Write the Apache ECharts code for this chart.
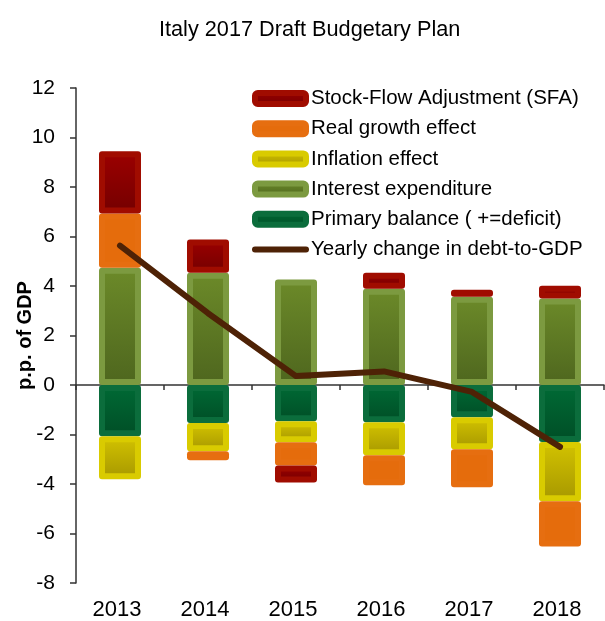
<!DOCTYPE html>
<html>
<head>
<meta charset="utf-8">
<script src="https://cdn.jsdelivr.net/npm/echarts@6/dist/echarts.min.js"></script>
<style>
  html, body { margin: 0; height: 100%; background: #fff; }
  #chart { width: 605px; height: 621px; }
</style>
</head>
<body>
<div id="chart"></div>
<script>
  // data (p.p. of GDP)
  const years = ['2013', '2014', '2015', '2016', '2017', '2018'];
  const primaryBalance = [-2.07, -1.54, -1.46, -1.50, -1.30, -2.30];
  const interestExp = [4.74, 4.54, 4.26, 3.89, 3.57, 3.49];
  const inflationEff = [-1.74, -1.14, -0.85, -1.34, -1.30, -2.40];
  const realGrowthEff = [2.19, -0.36, -0.94, -1.21, -1.53, -1.83];
  const sfa = [2.51, 1.34, -0.69, 0.65, 0.28, 0.52];
  const debtChange = [5.63, 2.90, 0.36, 0.55, -0.28, -2.50];
  const yTicks = { min: -8, max: 12, interval: 2 };

  const font = '"Liberation Sans", Arial, sans-serif';

  const grad = (top, bottom) => new echarts.graphic.LinearGradient(0, 0, 0, 1, [
    { offset: 0, color: top },
    { offset: 1, color: bottom }
  ]);

  // border sits inside the bar, so the gradient shows as an inset block
  const barSeries = (name, data, fill, border) => ({
    name: name,
    type: 'bar',
    stack: 'total',
    barWidth: 42,
    data: data,
    itemStyle: {
      color: fill,
      borderColor: border,
      borderWidth: 6,
      borderRadius: 0,
      borderJoin: 'round'
    }
  });

  const chart = echarts.init(document.getElementById('chart'), null, { renderer: 'canvas' });

  const lineName = 'Yearly change in debt-to-GDP';

  const option = {
    animation: false,
    title: {
      text: 'Italy 2017 Draft Budgetary Plan',
      left: 154,
      top: 14,
      textStyle: { fontFamily: font, fontSize: 21.7, fontWeight: 'normal', color: '#000' }
    },
    legend: {
      orient: 'vertical',
      left: 247,
      top: 83,
      itemWidth: 51,
      itemHeight: 11,
      itemGap: 9.2,
      itemTextGap: 6,
      itemStyle: { borderWidth: 6, borderJoin: 'round' },
      textStyle: { fontFamily: font, fontSize: 20.5, color: '#000' },
      data: [
        'Stock-Flow Adjustment (SFA)',
        'Real growth effect',
        'Inflation effect',
        'Interest expenditure',
        'Primary balance ( +=deficit)',
        { name: lineName, itemStyle: { opacity: 0 }, lineStyle: { width: 6, cap: 'round' } }
      ]
    },
    grid: { left: 76, right: 1, top: 88, bottom: 38 },
    xAxis: [
      {
        type: 'category',
        data: years,
        axisLine: { onZero: true, lineStyle: { color: '#333', width: 1.5 } },
        axisTick: { show: true, length: 5, lineStyle: { color: '#333', width: 1.5 } },
        axisLabel: { show: false }
      },
      {
        type: 'category',
        data: years,
        position: 'bottom',
        axisLine: { show: false, onZero: false },
        axisTick: { show: false },
        axisLabel: { margin: 16, padding: [0, 6, 0, 0], fontFamily: font, fontSize: 22, color: '#000' }
      }
    ],
    yAxis: {
      type: 'value',
      min: yTicks.min,
      max: yTicks.max,
      interval: yTicks.interval,
      name: 'p.p. of GDP',
      nameLocation: 'middle',
      nameGap: 41,
      nameMoveOverlap: false,
      nameRotate: 90,
      nameTextStyle: { fontFamily: font, fontSize: 20, fontWeight: 'bold', color: '#000' },
      axisLine: { show: true, lineStyle: { color: '#333', width: 1.5 } },
      axisTick: { show: true, length: 6, lineStyle: { color: '#333', width: 1.5 } },
      axisLabel: { margin: 21, fontFamily: font, fontSize: 21, color: '#000' },
      splitLine: { show: false }
    },
    series: [
      barSeries('Primary balance ( +=deficit)', primaryBalance, grad('#006A35', '#004E26'), '#0B6D3C'),
      barSeries('Interest expenditure', interestExp, grad('#6C8A29', '#4E661E'), '#7C9A40'),
      barSeries('Inflation effect', inflationEff, grad('#D3C300', '#A69700'), '#D9CB00'),
      barSeries('Real growth effect', realGrowthEff, '#E56C0C', '#E66E10'),
      barSeries('Stock-Flow Adjustment (SFA)', sfa, grad('#9C0000', '#740000'), '#A00C00'),
      {
        name: lineName,
        type: 'line',
        data: debtChange,
        showSymbol: false,
        symbol: 'none',
        z: 5,
        itemStyle: { color: '#4E2206' },
        lineStyle: { color: '#4E2206', width: 6, cap: 'round', join: 'round' }
      }
    ]
  };

  chart.setOption(option);
  window.addEventListener('resize', chart.resize);
</script>
</body>
</html>
